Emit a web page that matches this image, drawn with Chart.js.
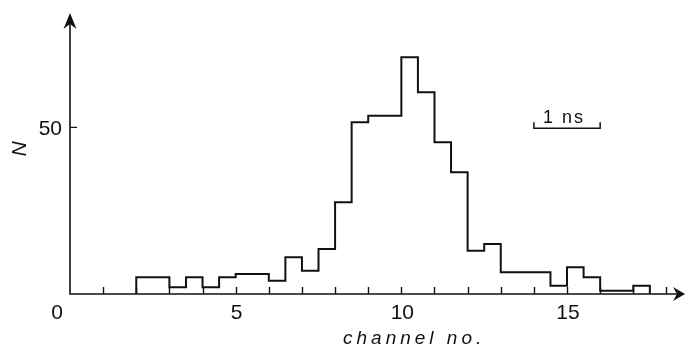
<!DOCTYPE html>
<html lang="en">
<head>
    <meta charset="UTF-8">
    <title>Channel histogram</title>
    <script src="https://cdn.jsdelivr.net/npm/chart.js"></script>
    <style>
        html, body { margin: 0; padding: 0; background: #fff; }
        #wrap { width: 686px; height: 347px; }
    </style>
</head>
<body>
    <div id="wrap"><canvas id="histChart" width="686" height="347"></canvas></div>

    <script>
        // Bin edges (channel no.) and counts per bin
        const binEdges = [2.0, 2.5, 3.0, 3.5, 4.0, 4.5, 5.0, 5.5, 6.0, 6.5, 7.0, 7.5, 8.0, 8.5, 9.0, 9.5,
                          10.0, 10.5, 11.0, 11.5, 12.0, 12.5, 13.0, 13.5, 14.0, 14.5, 15.0, 15.5, 16.0, 16.5, 17.0, 17.5];
        const counts = [5, 5, 2, 5, 2, 5, 6, 6, 4, 11, 7, 13.5, 27.5, 51.5, 53.5, 53.5,
                        71, 60.5, 45.5, 36.5, 13, 15, 6.5, 6.5, 6.5, 2.5, 8, 5, 1, 1, 2.5];

        const xTickLabels = [0, 5, 10, 15];
        const yTickLabels = [50];
        const scaleBar = { from: 14, to: 16, level: 50, text: '1 ns' };

        // step outline: each count runs from its own edge to the next one
        const points = [{ x: binEdges[0], y: 0 }];
        counts.forEach((c, i) => points.push({ x: binEdges[i + 1], y: c }));
        points.push({ x: binEdges[binEdges.length - 1], y: 0 });

        const ink = '#111';

        // axes with arrow heads, inward ticks, labels and the time scale bar
        const plotterAxes = {
            id: 'plotterAxes',
            afterDraw(chart) {
                const ctx = chart.ctx;
                const xs = chart.scales.x, ys = chart.scales.y;
                const x0 = xs.getPixelForValue(0), y0 = ys.getPixelForValue(0);
                const xEnd = chart.chartArea.right + 2, yEnd = chart.chartArea.top - 1;
                ctx.save();
                ctx.strokeStyle = ink;
                ctx.fillStyle = ink;
                ctx.lineWidth = 1.6;
                ctx.lineCap = 'butt';

                ctx.beginPath();
                ctx.moveTo(x0, yEnd + 6);
                ctx.lineTo(x0, y0);
                ctx.lineTo(xEnd - 6, y0);
                ctx.stroke();

                // arrow heads
                ctx.beginPath();
                ctx.moveTo(x0, yEnd);
                ctx.lineTo(x0 - 6.5, yEnd + 16);
                ctx.lineTo(x0, yEnd + 11);
                ctx.lineTo(x0 + 6.5, yEnd + 16);
                ctx.closePath();
                ctx.fill();

                ctx.beginPath();
                ctx.moveTo(xEnd, y0);
                ctx.lineTo(xEnd - 12, y0 - 7);
                ctx.lineTo(xEnd - 8, y0);
                ctx.lineTo(xEnd - 12, y0 + 7);
                ctx.closePath();
                ctx.fill();

                // x ticks every channel, pointing up
                ctx.lineWidth = 1.4;
                ctx.beginPath();
                for (let v = 1; v <= 18; v++) {
                    const px = Math.round(xs.getPixelForValue(v)) + 0.5;
                    ctx.moveTo(px, y0);
                    ctx.lineTo(px, y0 - 7);
                }
                yTickLabels.forEach(v => {
                    const py = ys.getPixelForValue(v);
                    ctx.moveTo(x0, py);
                    ctx.lineTo(x0 + 7, py);
                });
                ctx.stroke();

                ctx.font = '21px "Liberation Sans", Arial, sans-serif';
                ctx.textBaseline = 'alphabetic';
                ctx.textAlign = 'center';
                xTickLabels.forEach(v => {
                    const px = xs.getPixelForValue(v) + (v === 0 ? -13 : 1);
                    ctx.fillText(String(v), px, y0 + 24.5);
                });
                ctx.textAlign = 'right';
                yTickLabels.forEach(v => {
                    ctx.fillText(String(v), x0 - 8, ys.getPixelForValue(v) + 7.5);
                });

                // axis titles
                ctx.font = 'italic 19px "Liberation Sans", Arial, sans-serif';
                ctx.textAlign = 'left';
                ctx.letterSpacing = '4px';
                ctx.fillText('channel no.', 343, 344);
                ctx.letterSpacing = '0px';

                ctx.save();
                ctx.translate(26, 149);
                ctx.rotate(-Math.PI / 2);
                ctx.font = 'italic 21px "Liberation Sans", Arial, sans-serif';
                ctx.textAlign = 'center';
                ctx.fillText('N', 0, 0);
                ctx.restore();

                // 1 ns scale bar
                const bx1 = xs.getPixelForValue(scaleBar.from);
                const bx2 = xs.getPixelForValue(scaleBar.to);
                const by = ys.getPixelForValue(scaleBar.level) + 1;
                ctx.lineWidth = 1.5;
                ctx.beginPath();
                ctx.moveTo(bx1, by - 6);
                ctx.lineTo(bx1, by);
                ctx.lineTo(bx2, by);
                ctx.lineTo(bx2, by - 6);
                ctx.stroke();
                ctx.font = '18px "Liberation Sans", Arial, sans-serif';
                ctx.textAlign = 'left';
                ctx.letterSpacing = '2px';
                ctx.fillText(scaleBar.text, bx1 + 9, by - 5);
                ctx.letterSpacing = '0px';
                ctx.restore();
            }
        };

        new Chart(document.getElementById('histChart'), {
            type: 'line',
            data: {
                datasets: [{
                    data: points,
                    stepped: 'after',
                    borderColor: ink,
                    borderWidth: 2,
                    pointRadius: 0,
                    fill: false
                }]
            },
            options: {
                responsive: false,
                animation: false,
                layout: { padding: { left: 70, right: 3, top: 14, bottom: 53 } },
                scales: {
                    x: { type: 'linear', min: 0, max: 18.5, display: false },
                    y: { min: 0, max: 84, display: false }
                },
                plugins: {
                    legend: { display: false },
                    tooltip: { enabled: false }
                }
            },
            plugins: [plotterAxes]
        });
    </script>
</body>
</html>
